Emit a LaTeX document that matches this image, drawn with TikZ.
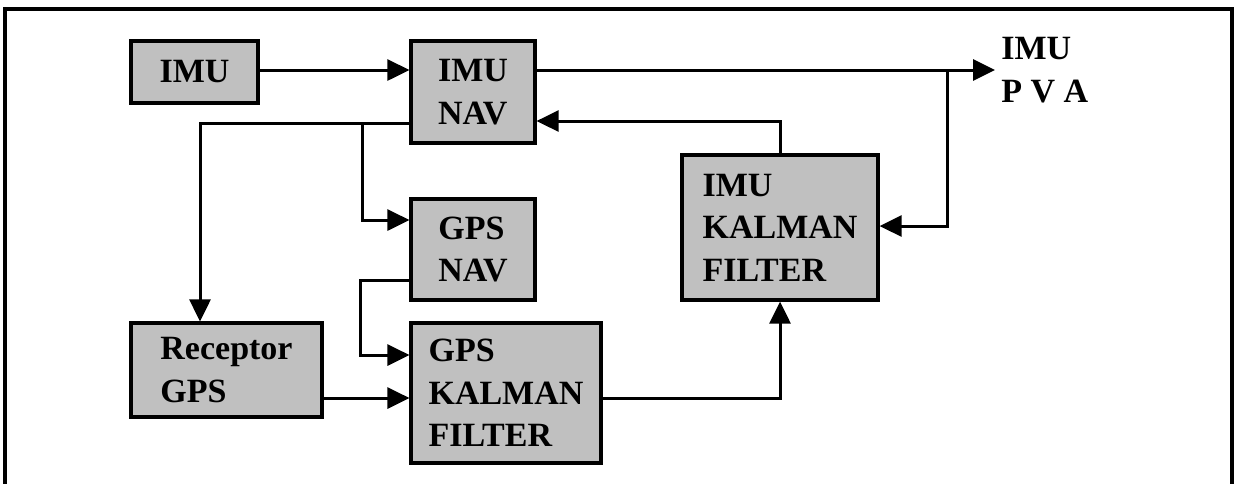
\documentclass[tikz,border=0pt]{standalone}
\usepackage{fontspec}
\setmainfont{Liberation Serif}
\usetikzlibrary{arrows.meta}
\definecolor{boxgray}{RGB}{192,192,192}

\begin{document}
\begin{tikzpicture}[
    x=0.5pt, y=-0.5pt,
    font=\fontsize{17}{21.2}\selectfont\bfseries,
    block/.style={rectangle,draw,line width=1.6pt,fill=boxgray,align=left,inner sep=0pt},
    arrow/.style={-{Triangle[length=11pt,width=10.5pt]},line width=1.5pt},
    pageframe/.style={line width=1.9pt}
]
\useasboundingbox (0,0) rectangle (1236,483);
\draw[pageframe] (5,495) |- (1232,9) -- (1232,495);

\node[block,minimum width=63.5pt,minimum height=31pt] (imu) at (194.5,72) {IMU};
\node[block,minimum width=62pt,minimum height=51pt] (imunav) at (473,92) {IMU\\NAV};
\node[block,minimum width=62pt,minimum height=50.5pt] (gpsnav) at (473,249.5) {GPS\\NAV};
\node[block,minimum width=95.5pt,minimum height=47pt] (receptor) at (226.5,370) {Receptor\\GPS};
\node[block,minimum width=95pt,minimum height=70pt] (gpskf) at (506,393) {GPS\\KALMAN\\FILTER};
\node[block,minimum width=98pt,minimum height=72.5pt] (imukf) at (780,227.5) {IMU\\KALMAN\\FILTER};
\node[anchor=west,inner xsep=3pt,inner ysep=0pt,align=left] (pva) at (995,70) {IMU\\P V A};

\coordinate (tap) at (947,70);
\coordinate (split) at (362,123);

\draw[arrow] (imu.east |- 0,70) -- (imunav.west |- 0,70);
\draw[arrow] (imunav.east |- 0,70) -- (pva.west);
\draw[arrow] (tap) |- (imukf.east |- 0,226);
\draw[arrow] (imukf.north) |- (imunav.east |- 0,121);
\draw[arrow] (imunav.west |- 0,123) -| (receptor.north -| 200,0);
\draw[arrow] (split) |- (gpsnav.west |- 0,220);
\draw[arrow] (gpsnav.west |- 0,280) -- ++(-49,0) |- (gpskf.west |- 0,355);
\draw[arrow] (receptor.east |- 0,398) -- (gpskf.west |- 0,398);
\draw[arrow] (gpskf.east |- 0,398) -| (imukf.south);
\end{tikzpicture}
\end{document}
